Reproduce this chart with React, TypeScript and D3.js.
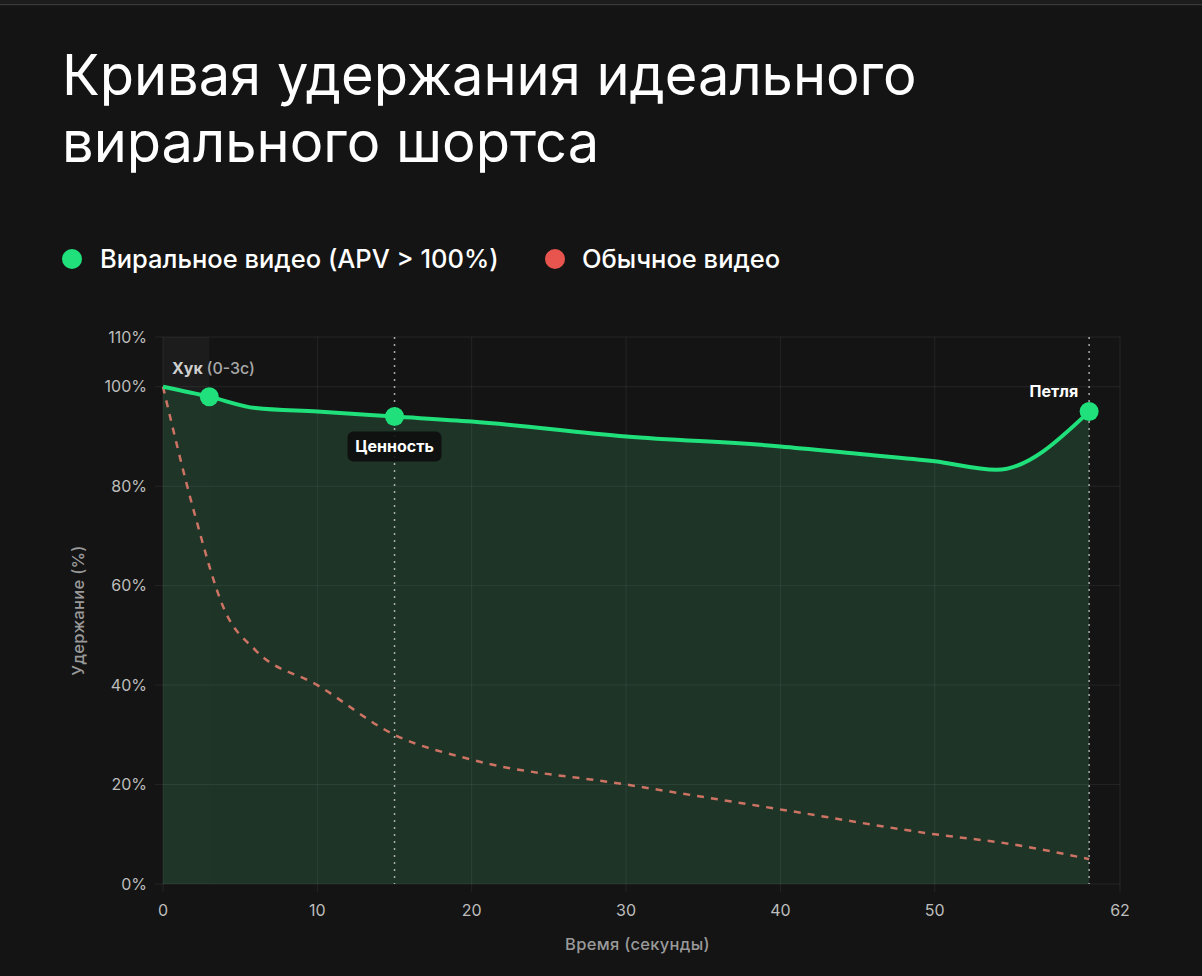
import * as d3 from 'd3';
import React from 'react';

const WIDTH = 1202;
const HEIGHT = 976;
const MARGIN = { top: 337, right: 82, bottom: 92, left: 163 };
const FONT = "Inter, 'Noto Sans', sans-serif";

// Viral video retention (seconds, %)
const viralTime = [0, 3, 6, 10, 15, 20, 30, 40, 45, 50, 54, 60];
const viralRetention = [100, 98, 95.7, 95, 94, 93, 90, 88, 86.5, 85, 83.3, 95];

// Normal video retention (seconds, %)
const normalTime = [0, 2, 4, 6, 10, 15, 20, 30, 40, 50, 55, 60];
const normalRetention = [100, 75, 55, 47, 40, 30, 25, 20, 15, 10, 8, 5];

const xTicks = [0, 10, 20, 30, 40, 50, 62];
const yTicks = [0, 20, 40, 60, 80, 100, 110];

const markerTimes = [3, 15, 60];

const GREEN = '#1fe07a';
const RED = '#e8554e';

export default function App() {
  const boundsWidth = WIDTH - MARGIN.left - MARGIN.right;
  const boundsHeight = HEIGHT - MARGIN.top - MARGIN.bottom;

  const xScale = d3.scaleLinear().domain([0, 62]).range([0, boundsWidth]);
  const yScale = d3.scaleLinear().domain([0, 110]).range([boundsHeight, 0]);

  const viral = viralTime.map((t, i) => ({ t, v: viralRetention[i] }));
  const normal = normalTime.map((t, i) => ({ t, v: normalRetention[i] }));

  const line = d3
    .line<{ t: number; v: number }>()
    .x(d => xScale(d.t))
    .y(d => yScale(d.v))
    .curve(d3.curveMonotoneX);

  const area = d3
    .area<{ t: number; v: number }>()
    .x(d => xScale(d.t))
    .y0(yScale(0))
    .y1(d => yScale(d.v))
    .curve(d3.curveMonotoneX);

  const valueAt = (t: number) => viral[viralTime.indexOf(t)].v;

  return (
    <svg
      width={WIDTH}
      height={HEIGHT}
      style={{ position: 'fixed', top: 0, left: 0, display: 'block', background: '#141414' }}
    >
      <rect x={0} y={0} width={WIDTH} height={HEIGHT} fill="#141414" />
      <rect x={0} y={0} width={WIDTH} height={4} fill="#1c1c1c" />
      <rect x={0} y={4} width={WIDTH} height={1.2} fill="#3a3a3a" />

      {/* Title */}
      <text x={62} y={95} fill="#ffffff" fontSize={56} fontFamily={FONT}>
        Кривая удержания идеального
      </text>
      <text x={62} y={162} fill="#ffffff" fontSize={56} fontFamily={FONT}>
        вирального шортса
      </text>

      {/* Legend */}
      <g fontFamily={FONT} fontSize={25.5} fontWeight={500} fill="#ffffff">
        <circle cx={72} cy={259} r={10} fill={GREEN} />
        <text x={100} y={268}>Виральное видео (APV &gt; 100%)</text>
        <circle cx={555} cy={259} r={10} fill={RED} />
        <text x={582} y={268}>Обычное видео</text>
      </g>

      <g transform={`translate(${MARGIN.left},${MARGIN.top})`}>
        {/* Hook region */}
        <rect
          x={xScale(0)}
          y={0}
          width={xScale(3) - xScale(0)}
          height={boundsHeight}
          fill="#ffffff"
          opacity={0.035}
        />

        {/* Area under viral curve */}
        <path d={area(viral) ?? ''} fill="#1e3a2a" opacity={0.85} />

        {/* Grid */}
        {yTicks.map(t => (
          <line
            key={`gy${t}`}
            x1={-8}
            x2={boundsWidth}
            y1={yScale(t)}
            y2={yScale(t)}
            stroke="#ffffff"
            strokeOpacity={0.07}
          />
        ))}
        {xTicks.map(t => (
          <line
            key={`gx${t}`}
            x1={xScale(t)}
            x2={xScale(t)}
            y1={0}
            y2={boundsHeight + 8}
            stroke="#ffffff"
            strokeOpacity={0.07}
          />
        ))}

        {/* Y tick labels */}
        {yTicks.map(t => (
          <text
            key={`ly${t}`}
            x={-16}
            y={yScale(t)}
            dy="0.35em"
            textAnchor="end"
            fill="#bdbdbd"
            fontSize={16}
            fontFamily={FONT}
          >
            {t}%
          </text>
        ))}

        {/* X tick labels */}
        {xTicks.map(t => (
          <text
            key={`lx${t}`}
            x={xScale(t)}
            y={boundsHeight + 26}
            dy="0.35em"
            textAnchor="middle"
            fill="#bdbdbd"
            fontSize={16}
            fontFamily={FONT}
          >
            {t}
          </text>
        ))}

        {/* Axis titles */}
        <text
          x={boundsWidth * 0.5 - 4}
          y={boundsHeight + 60}
          dy="0.35em"
          textAnchor="middle"
          fill="#9a9a9a"
          fontSize={16.5}
          fontWeight={500}
          letterSpacing={0.3}
          fontFamily={FONT}
        >
          Время (секунды)
        </text>
        <text
          transform={`translate(${-85},${yScale(55)}) rotate(-90)`}
          textAnchor="middle"
          dy="0.35em"
          fill="#9a9a9a"
          fontSize={16.5}
          fontWeight={500}
          letterSpacing={0.3}
          fontFamily={FONT}
        >
          Удержание (%)
        </text>

        {/* Dotted marker lines */}
        {[15, 60].map(t => (
          <line
            key={`m${t}`}
            x1={xScale(t)}
            x2={xScale(t)}
            y1={0}
            y2={boundsHeight}
            stroke="#cfcfcf"
            strokeWidth={1.5}
            strokeDasharray="2 5"
            opacity={0.8}
          />
        ))}

        {/* Normal video */}
        <path
          d={line(normal) ?? ''}
          fill="none"
          stroke="#e07a6a"
          strokeWidth={2.5}
          strokeDasharray="7 7"
          opacity={0.9}
        />

        {/* Viral video */}
        <path d={line(viral) ?? ''} fill="none" stroke={GREEN} strokeWidth={4} />

        {markerTimes.map(t => (
          <circle key={`c${t}`} cx={xScale(t)} cy={yScale(valueAt(t))} r={9.5} fill={GREEN} />
        ))}

        {/* Annotations */}
        <text x={xScale(0) + 9} y={yScale(102.6)} fontSize={16} fontFamily={FONT}>
          <tspan fill="#cfcfcf" fontWeight="bold">Хук </tspan>
          <tspan fill="#a8a8a8" fontWeight={500}>(0-3с)</tspan>
        </text>

        <rect
          x={xScale(15) - 47}
          y={yScale(valueAt(15)) + 15}
          width={94}
          height={30}
          rx={6}
          fill="#0d0d0d"
          opacity={0.9}
        />
        <text
          x={xScale(15)}
          y={yScale(valueAt(15)) + 30}
          dy="0.35em"
          textAnchor="middle"
          fill="#ffffff"
          fontSize={16}
          fontWeight="bold"
          fontFamily={FONT}
        >
          Ценность
        </text>

        <text
          x={xScale(60) - 11}
          y={yScale(valueAt(60)) - 20}
          dy="0.35em"
          textAnchor="end"
          fill="#ffffff"
          fontSize={16}
          fontWeight="bold"
          fontFamily={FONT}
        >
          Петля
        </text>
      </g>
    </svg>
  );
}
